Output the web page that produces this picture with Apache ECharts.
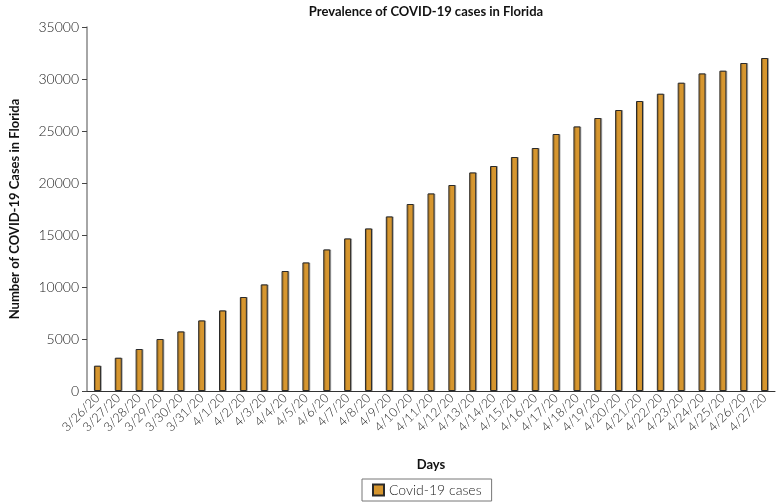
<!DOCTYPE html>
<html><head><meta charset="utf-8">
<script src="https://cdn.jsdelivr.net/npm/echarts@6/dist/echarts.min.js"></script>
<style>html,body{margin:0;padding:0;background:#fff}#c{width:776px;height:502px}</style>
</head><body><div id="c"></div>
<script>
const days = ['3/26/20','3/27/20','3/28/20','3/29/20','3/30/20','3/31/20','4/1/20','4/2/20','4/3/20','4/4/20','4/5/20','4/6/20','4/7/20','4/8/20','4/9/20','4/10/20','4/11/20','4/12/20','4/13/20','4/14/20','4/15/20','4/16/20','4/17/20','4/18/20','4/19/20','4/20/20','4/21/20','4/22/20','4/23/20','4/24/20','4/25/20','4/26/20','4/27/20'];
const cases = [2433,3200,4038,5000,5730,6788,7750,9038,10250,11538,12365,13615,14673,15634,16788,17980,19000,19807,21019,21634,22500,23365,24711,25442,26250,27019,27884,28586,29644,30538,30800,31538,32019];
const seriesName = 'Covid-19 cases';
const yTicks = {min:0, max:35000, interval:5000};

const font = 'Lato, "Open Sans", sans-serif';
const chart = echarts.init(document.getElementById('c'), null, {renderer:'canvas'});
chart.setOption({
  animation:false,
  title:{text:'Prevalence of COVID-19 cases in Florida', left:421, textAlign:'center', top:0,
    textStyle:{fontFamily:font, fontSize:13, fontWeight:'bold', color:'#111'}},
  grid:{left:77, right:1, top:27, bottom:111, containLabel:false},
  legend:{bottom:1, left:362, itemWidth:11, itemHeight:11, itemGap:6, borderColor:'#777', borderWidth:1, padding:[4,10,4,10],
    textStyle:{fontFamily:font, fontSize:14, fontWeight:300, color:'#222'},
    data:[{name:seriesName, icon:'rect'}]},
  xAxis:{type:'category', data:days, name:'Days', nameLocation:'middle', nameGap:67,
    nameTextStyle:{fontFamily:font, fontSize:13, fontWeight:'bold', color:'#111'},
    axisLine:{lineStyle:{color:'#333', width:1}},
    axisTick:{show:false},
    axisLabel:{rotate:45, interval:0, fontFamily:font, fontSize:12.5, fontWeight:300, color:'#222', margin:5}},
  yAxis:{type:'value', min:yTicks.min, max:yTicks.max, interval:yTicks.interval,
    name:'Number of COVID-19 Cases in Florida', nameLocation:'middle', nameGap:66,
    nameTextStyle:{fontFamily:font, fontSize:13, fontWeight:'bold', color:'#111'},
    axisLine:{show:true, lineStyle:{color:'#888', width:1.5}},
    axisTick:{show:true, length:5, lineStyle:{color:'#444'}},
    splitLine:{show:false},
    axisLabel:{fontFamily:font, fontSize:14, fontWeight:300, color:'#222', margin:8, formatter:v=>String(v)}},
  series:[{name:seriesName, type:'bar', data:cases, barWidth:7,
    itemStyle:{color:'#D6962F', borderColor:'#2a2a2a', borderWidth:1,
      shadowColor:'rgba(0,0,0,0.25)', shadowOffsetX:1, shadowBlur:0}}]
});
</script></body></html>
